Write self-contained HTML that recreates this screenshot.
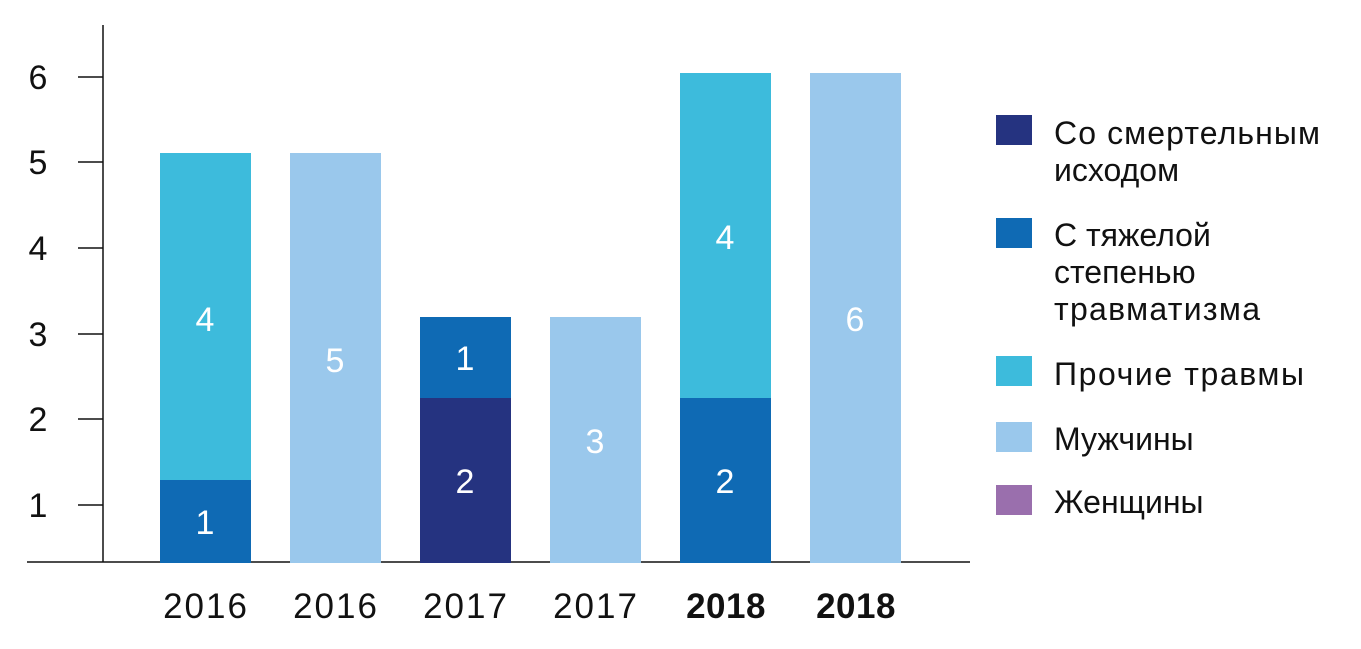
<!DOCTYPE html>
<html><head><meta charset="utf-8"><style>
body{margin:0;background:#fff;}
svg text{font-family:"Liberation Sans",sans-serif;}
</style></head><body>
<svg width="1361" height="644" viewBox="0 0 1361 644" xmlns="http://www.w3.org/2000/svg">
<g fill="#111" font-size="34" text-anchor="middle">
<text x="38" y="89">6</text><text x="38" y="174">5</text><text x="38" y="260">4</text>
<text x="38" y="346">3</text><text x="38" y="431">2</text><text x="38" y="517">1</text>
</g>
<g stroke="#111" stroke-width="1.5">
<line x1="103" y1="25" x2="103" y2="562"/>
<line x1="27" y1="562" x2="970" y2="562"/>
<line x1="78" y1="77" x2="103" y2="77"/><line x1="78" y1="162" x2="103" y2="162"/>
<line x1="78" y1="248" x2="103" y2="248"/><line x1="78" y1="334" x2="103" y2="334"/>
<line x1="78" y1="419" x2="103" y2="419"/><line x1="78" y1="505" x2="103" y2="505"/>
</g>
<rect x="160" y="153" width="91" height="327" fill="#3dbbdc"/>
<rect x="160" y="480" width="91" height="83" fill="#0f6ab4"/>
<rect x="290" y="153" width="91" height="410" fill="#9ac8ec"/>
<rect x="420" y="317" width="91" height="81" fill="#0f6ab4"/>
<rect x="420" y="398" width="91" height="165" fill="#253380"/>
<rect x="550" y="317" width="91" height="246" fill="#9ac8ec"/>
<rect x="680" y="73" width="91" height="325" fill="#3dbbdc"/>
<rect x="680" y="398" width="91" height="165" fill="#0f6ab4"/>
<rect x="810" y="73" width="91" height="490" fill="#9ac8ec"/>
<g fill="#fff" font-size="34" text-anchor="middle">
<text x="205" y="331">4</text><text x="205" y="534">1</text>
<text x="335" y="372">5</text>
<text x="465" y="370">1</text><text x="465" y="493">2</text>
<text x="595" y="453">3</text>
<text x="725" y="249">4</text><text x="725" y="493">2</text>
<text x="855" y="331">6</text>
</g>
<g fill="#111" font-size="35" text-anchor="middle" letter-spacing="2">
<text x="206" y="618">2016</text><text x="336" y="618">2016</text>
<text x="466" y="618">2017</text><text x="596" y="618">2017</text>
<text x="726" y="618" font-weight="bold" letter-spacing="0.5">2018</text><text x="856" y="618" font-weight="bold" letter-spacing="0.5">2018</text>
</g>
<rect x="996" y="115" width="36" height="30" fill="#253380"/>
<rect x="996" y="218" width="36" height="30" fill="#0f6ab4"/>
<rect x="996" y="356" width="36" height="30" fill="#3dbbdc"/>
<rect x="996" y="422" width="36" height="30" fill="#9ac8ec"/>
<rect x="996" y="485" width="36" height="30" fill="#9a6fad"/>
<g fill="#111" font-size="32">
<text x="1054" y="144" textLength="266">Со смертельным</text><text x="1054" y="181">исходом</text>
<text x="1054" y="246">С тяжелой</text><text x="1054" y="283">степенью</text><text x="1054" y="320" textLength="206">травматизма</text>
<text x="1054" y="385" textLength="250">Прочие травмы</text>
<text x="1054" y="450">Мужчины</text>
<text x="1054" y="513">Женщины</text>
</g>
</svg>
</body></html>
